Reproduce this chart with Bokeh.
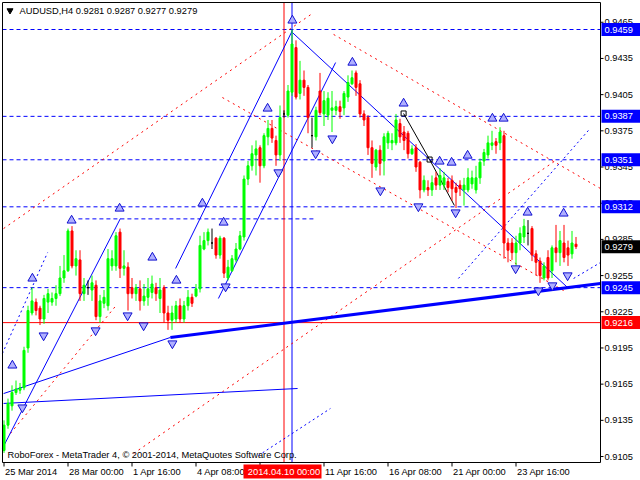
from bokeh.plotting import figure
from bokeh.models import Range1d, ColumnDataSource
from bokeh.core.properties import value
from bokeh.embed import file_html
from bokeh.resources import INLINE

FONT = "Liberation Sans"
FS = "9.3px"

# ---------------- data (AUDUSD H4, bar index 0 = 25 Mar 2014 08:00) ----------------
opens = [.9110, .9131, .9147, .9158, .9160, .9162, .9195, .9224, .9233, .9228,
         .9219, .9233, .9233, .9236, .9240, .9253, .9259, .9292, .9263, .9268,
         .9240, .9245, .9243, .9247, .9221, .9232, .9230, .9263, .9263, .9291,
         .9261, .9262, .9245, .9240, .9244, .9234, .9237, .9241, .9245, .9236,
         .9245, .9224, .9218, .9219, .9230, .9219, .9230, .9237, .9238, .9244,
         .9277, .9284, .9282, .9286, .9272, .9286, .9253, .9259, .9268, .9277,
         .9287, .9335, .9346, .9355, .9361, .9346, .9370, .9377, .9367, .9355,
         .9389, .9388, .9407, .9444, .9406, .9417, .9411, .9371, .9370, .9408,
         .9389, .9388, .9392, .9392, .9395, .9394, .9403, .9414, .9423, .9414,
         .9389, .9386, .9361, .9345, .9359, .9350, .9365, .9365, .9365, .9381,
         .9374, .9373, .9356, .9361, .9349, .9326, .9328, .9326, .9336, .9330,
         .9330, .9333, .9334, .9328, .9330, .9326, .9326, .9331, .9326, .9336,
         .9350, .9355, .9363, .9366, .9365, .9371, .9282, .9282, .9274, .9282,
         .9287, .9290, .9294, .9273, .9267, .9253, .9270, .9259, .9278, .9274,
         .9282, .9278, .9273, .9281]
highs = [.9135, .9153, .9164, .9168, .9166, .9196, .9230, .9245, .9236, .9230,
         .9239, .9244, .9241, .9247, .9263, .9272, .9294, .9296, .9276, .9276,
         .9253, .9251, .9255, .9251, .9239, .9243, .9277, .9276, .9291, .9294,
         .9276, .9266, .9253, .9248, .9251, .9248, .9253, .9255, .9249, .9253,
         .9247, .9230, .9230, .9234, .9236, .9234, .9243, .9240, .9248, .9288,
         .9291, .9294, .9294, .9287, .9288, .9287, .9268, .9272, .9282, .9292,
         .9338, .9350, .9363, .9367, .9363, .9373, .9384, .9384, .9371, .9396,
         .9392, .9413, .9459, .9450, .9433, .9425, .9413, .9386, .9395, .9423,
         .9408, .9407, .9408, .9400, .9400, .9408, .9421, .9425, .9425, .9417,
         .9392, .9388, .9367, .9360, .9363, .9373, .9375, .9373, .9389, .9385,
         .9379, .9375, .9363, .9364, .9350, .9338, .9334, .9338, .9341, .9344,
         .9341, .9336, .9338, .9332, .9334, .9336, .9344, .9342, .9346, .9352,
         .9360, .9371, .9375, .9369, .9378, .9375, .9286, .9286, .9288, .9295,
         .9302, .9301, .9296, .9276, .9270, .9266, .9276, .9280, .9297, .9292,
         .9297, .9284, .9292, .9287]
lows = [.9108, .9128, .9143, .9156, .9157, .9160, .9191, .9222, .9222, .9214,
        .9215, .9224, .9230, .9230, .9238, .9249, .9258, .9261, .9255, .9234,
        .9234, .9239, .9234, .9218, .9216, .9228, .9226, .9259, .9259, .9253,
        .9255, .9226, .9236, .9234, .9226, .9230, .9230, .9236, .9234, .9224,
        .9216, .9210, .9210, .9216, .9216, .9216, .9226, .9229, .9237, .9241,
        .9276, .9280, .9277, .9269, .9269, .9253, .9251, .9258, .9266, .9276,
        .9284, .9330, .9342, .9338, .9332, .9344, .9363, .9365, .9346, .9350,
        .9386, .9386, .9404, .9401, .9401, .9404, .9373, .9361, .9367, .9388,
        .9379, .9384, .9374, .9388, .9385, .9388, .9399, .9413, .9404, .9386,
        .9379, .9355, .9336, .9342, .9338, .9338, .9360, .9359, .9363, .9365,
        .9359, .9352, .9355, .9341, .9319, .9324, .9321, .9321, .9326, .9326,
        .9326, .9324, .9317, .9311, .9321, .9313, .9324, .9327, .9323, .9331,
        .9346, .9352, .9359, .9356, .9359, .9269, .9266, .9268, .9263, .9276,
        .9282, .9280, .9267, .9255, .9249, .9251, .9251, .9253, .9266, .9263,
        .9266, .9263, .9269, .9277]
closes = [.9131, .9149, .9158, .9161, .9162, .9193, .9226, .9234, .9226, .9219,
          .9236, .9240, .9236, .9240, .9253, .9259, .9292, .9263, .9269, .9240,
          .9247, .9245, .9249, .9221, .9234, .9237, .9269, .9269, .9288, .9261,
          .9263, .9240, .9240, .9245, .9234, .9238, .9244, .9248, .9240, .9243,
          .9224, .9218, .9224, .9230, .9219, .9230, .9237, .9232, .9244, .9280,
          .9284, .9291, .9282, .9272, .9286, .9257, .9262, .9269, .9277, .9288,
          .9335, .9346, .9356, .9360, .9346, .9371, .9377, .9369, .9355, .9386,
          .9389, .9408, .9447, .9403, .9417, .9411, .9386, .9371, .9392, .9390,
          .9400, .9402, .9394, .9395, .9391, .9406, .9415, .9419, .9411, .9389,
          .9384, .9361, .9348, .9359, .9348, .9370, .9373, .9367, .9384, .9370,
          .9367, .9356, .9360, .9345, .9326, .9334, .9326, .9332, .9330, .9338,
          .9336, .9328, .9327, .9324, .9327, .9330, .9336, .9336, .9336, .9349,
          .9357, .9365, .9365, .9363, .9374, .9282, .9276, .9274, .9282, .9290,
          .9296, .9290, .9272, .9266, .9255, .9263, .9253, .9278, .9274, .9284,
          .9270, .9272, .9282, .9279]

price_ticks = [0.9105, 0.9135, 0.9165, 0.9195, 0.9225, 0.9255, 0.9285, 0.9315,
               0.9345, 0.9375, 0.9405, 0.9435, 0.9465]
time_ticks = [0, 16, 32, 48, 64, 80, 96, 112, 128]
time_labels = ["25 Mar 2014", "28 Mar 00:00", "1 Apr 16:00", "4 Apr 08:00", "",
               "11 Apr 16:00", "16 Apr 08:00", "21 Apr 00:00", "23 Apr 16:00"]

blue_levels = [0.9459, 0.9387, 0.9351, 0.9312, 0.9245]
red_level = 0.9216
last_price = 0.9279
short_level = 0.9302
short_level_bars = [18.6, 77.9]
vline_red_bar = 70
vline_red_text = "2014.04.10 00:00"
vline_blue_bar = 72

# drawn analysis objects (bar index, price)
blue_solid_xs = [[-0.4, 29.1], [-0.1, 41.6], [-0.1, 73.4], [42.9, 72.1], [53.6, 82.9], [72.1, 140.9]]
blue_solid_ys = [[0.91116, 0.93023], [0.91572, 0.92037], [0.91490, 0.91614],
                 [0.92609, 0.94582], [0.92360, 0.94316], [0.94565, 0.92451]]
thick_xs = [41.6, 149.1]
thick_ys = [0.92037, 0.92484]
zigzag_xs = [99.9, 106.4, 112.6]
zigzag_ys = [0.93894, 0.93512, 0.93131]
blue_dash_xs = [[-0.4, 10.9], [113.6, 146.1], [142.4, 149.1], [63.6, 81.6]]
blue_dash_ys = [[0.91904, 0.92741], [0.92526, 0.93753], [0.92526, 0.92658], [0.91058, 0.91448]]
red_dot_xs = [[-0.1, 77.1], [1.6, 27.9], [54.6, 139.9], [82.4, 149.1], [32.4, 137.9]]
red_dot_ys = [[0.92940, 0.94723], [0.91241, 0.92297], [0.94026, 0.92426],
              [0.94549, 0.93272], [0.91075, 0.93504]]

up_x = [72.1, 87.1, 99.9, 122.1, 124.9, 65.9, 49.6, 54.9, 28.9, 16.9, 37.1, 43.1, 7.1, 2.1,
        108.9, 111.9, 115.9, 130.9, 139.9]
up_y = [0.94665, 0.94316, 0.93977, 0.93852, 0.93852, 0.93935, 0.93148, 0.92990, 0.93106,
        0.93007, 0.92700, 0.92509, 0.92526, 0.91805, 0.93496, 0.93487, 0.93545, 0.93073, 0.93065]
dn_x = [4.6, 9.9, 22.9, 30.9, 34.9, 42.1, 55.4, 68.6, 77.9, 82.1, 94.1, 103.6, 112.9,
        127.9, 133.6, 137.1, 140.9]
dn_y = [0.91456, 0.92053, 0.92095, 0.92219, 0.92136, 0.91987, 0.92459, 0.93405, 0.93562,
        0.93686, 0.93255, 0.93123, 0.93073, 0.92609, 0.92426, 0.92468, 0.92551]

title_text = "AUDUSD,H4  0.9281 0.9287 0.9277 0.9279"
footer_text = "RoboForex - MetaTrader 4, \u00a9 2001-2014, MetaQuotes Software Corp."

# ---------------- scales: whole canvas is the data frame ----------------
BAR_PX = 4.0          # pixels per H4 bar
BAR0_PX = 3.5         # pixel x of bar 0
PRICE_PX = 0.0000829  # price per pixel
REF_PRICE, REF_PX = 0.9459, 29.0
W, H = 640, 480

def px2x(px):
    return (px - BAR0_PX) / BAR_PX

def px2y(py):
    return REF_PRICE - (py - REF_PX) * PRICE_PX

FL, FR, FT, FB = 2, 600, 2, 462   # chart window in pixels
XL, XR = px2x(FL), px2x(FR)
YT, YB = px2y(FT), px2y(FB)

p = figure(width=W, height=H, output_backend="svg", toolbar_location=None, title=None,
           x_range=Range1d(px2x(0), px2x(W)), y_range=Range1d(px2y(H), px2y(0)),
           x_axis_location=None, y_axis_location=None, min_border=0)
p.background_fill_color = "white"
p.border_fill_color = "white"
p.outline_line_color = None
p.xgrid.visible = False
p.ygrid.visible = False

# level lines
p.segment(x0=[XL] * len(blue_levels), y0=blue_levels, x1=[XR] * len(blue_levels), y1=blue_levels,
          line_color="#0000FF", line_dash="4 3", line_width=1)
p.segment(x0=[XL], y0=[red_level], x1=[XR], y1=[red_level], line_color="#FF0000", line_width=1)
p.line(short_level_bars, [short_level, short_level], line_color="#0000FF", line_dash="4 3")
p.segment(x0=[vline_red_bar], y0=[YB], x1=[vline_red_bar], y1=[YT], line_color="#FF0000")
p.segment(x0=[vline_blue_bar], y0=[YB], x1=[vline_blue_bar], y1=[YT], line_color="#0000FF")

# analysis drawings
p.multi_line(red_dot_xs, red_dot_ys, line_color="#FF0000", line_dash="2 4", line_width=1)
p.multi_line(blue_dash_xs, blue_dash_ys, line_color="#0000FF", line_dash="2 3", line_width=1)
p.multi_line(blue_solid_xs, blue_solid_ys, line_color="#0000FF", line_width=1)
p.line(thick_xs, thick_ys, line_color="#0000FF", line_width=3)
p.line(zigzag_xs, zigzag_ys, line_color="black", line_width=1)
p.scatter(zigzag_xs[:2], zigzag_ys[:2], marker="square", size=5, fill_color=None, line_color="black")

# candles
idx = list(range(len(opens)))
cols = ["#00FF00" if c > o else ("#FF0000" if c < o else "#000000") for o, c in zip(opens, closes)]
src = ColumnDataSource(dict(x=idx, h=highs, l=lows,
                            top=[max(o, c) for o, c in zip(opens, closes)],
                            bot=[min(o, c) for o, c in zip(opens, closes)], col=cols))
p.segment(x0="x", y0="l", x1="x", y1="h", line_color="col", line_width=1, source=src)
p.vbar(x="x", width=0.5, top="top", bottom="bot", fill_color="col", line_color="col",
       line_width=1, source=src)

# fractal arrows
p.scatter(up_x, up_y, marker="triangle", size=9, fill_color="#AFAFFF", line_color="#1010D0")
p.scatter(dn_x, dn_y, marker="inverted_triangle", size=9, fill_color="#AFAFFF", line_color="#1010D0")

# white margins outside chart window (price scale and time scale areas)
p.quad(left=[XR], right=[px2x(W)], bottom=[px2y(H)], top=[px2y(0)], fill_color="white", line_color=None)
p.quad(left=[px2x(0)], right=[px2x(W)], bottom=[px2y(H)], top=[YB], fill_color="white", line_color=None)

# chart window border
p.multi_line([[XL, XR, XR, XL, XL]], [[YT, YT, YB, YB, YT]], line_color="black", line_width=1)

# price scale: ticks + labels
n_pt = len(price_ticks)
p.segment(x0=[XR] * n_pt, y0=price_ticks, x1=[px2x(FR + 3)] * n_pt, y1=price_ticks, line_color="black")
p.text(x=[px2x(FR + 4)] * n_pt, y=price_ticks, text=[f"{t:.4f}" for t in price_ticks],
       text_font=value(FONT), text_font_size=value(FS), text_color="black",
       text_baseline="middle", text_align="left")

# time scale: ticks + labels
n_tt = len(time_ticks)
p.segment(x0=time_ticks, y0=[YB] * n_tt, x1=time_ticks, y1=[px2y(FB + 4)] * n_tt, line_color="black")
lab = [(t, s) for t, s in zip(time_ticks, time_labels) if s]
p.text(x=[max(t, XL) + 0.25 for t, _ in lab], y=[px2y(471)] * len(lab), text=[s for _, s in lab],
       text_font=value(FONT), text_font_size=value(FS), text_color="black",
       text_baseline="middle", text_align="left")

# vertical line time box
p.quad(left=[px2x(243)], right=[px2x(321)], top=[px2y(464)], bottom=[px2y(478)],
       fill_color="#FF0000", line_color=None)
p.text(x=[vline_red_bar], y=[px2y(471)], text=[vline_red_text], text_font=value(FONT),
       text_font_size=value(FS), text_color="white", text_baseline="middle", text_align="center")

# price boxes on the scale
box_levels = blue_levels + [last_price, red_level]
box_cols = ["#0000FF"] * len(blue_levels) + ["#000000", "#FF0000"]
half = 6.5 * PRICE_PX
p.quad(left=[px2x(FR + 1)] * len(box_levels), right=[px2x(W)] * len(box_levels),
       top=[v + half for v in box_levels], bottom=[v - half for v in box_levels],
       fill_color=box_cols, line_color=None)
p.text(x=[px2x(FR + 4)] * len(box_levels), y=box_levels, text=[f"{v:.4f}" for v in box_levels],
       text_font=value(FONT), text_font_size=value(FS), text_color="white",
       text_baseline="middle", text_align="left")

# header / footer texts
p.scatter([px2x(9.5)], [px2y(10)], marker="inverted_triangle", size=6, fill_color="black", line_color="black")
p.text(x=[px2x(19)], y=[px2y(10.5)], text=[title_text], text_font=value(FONT),
       text_font_size=value(FS), text_color="black", text_baseline="middle", text_align="left")
p.text(x=[px2x(7)], y=[px2y(454)], text=[footer_text], text_font=value(FONT),
       text_font_size=value(FS), text_color="black", text_baseline="middle", text_align="left")

open("out.html", "w").write(file_html(p, INLINE))
